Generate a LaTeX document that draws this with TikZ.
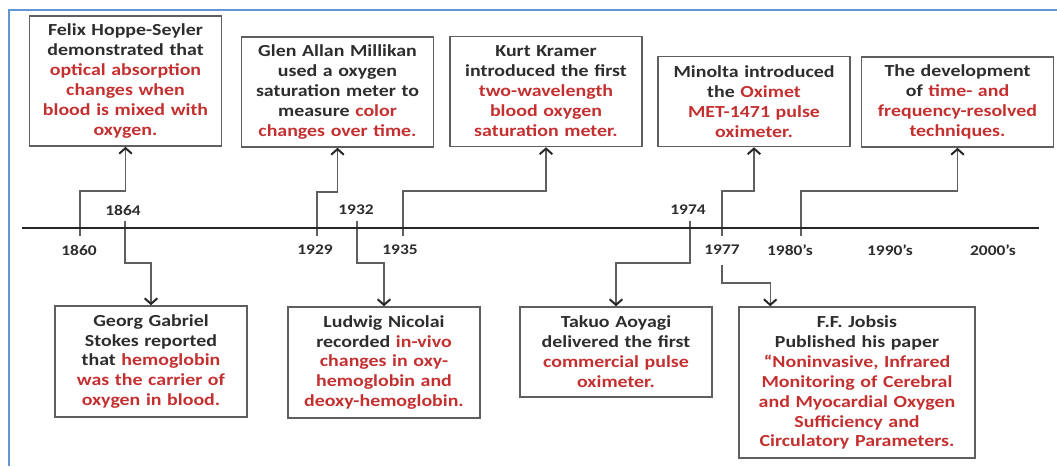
\documentclass[tikz,border=0pt]{standalone}
\usepackage{fontspec}
\setmainfont{Carlito}[FakeStretch=1.18]
\usetikzlibrary{arrows.meta}

\definecolor{txt}{RGB}{45,45,45}
\definecolor{keyred}{RGB}{196,48,48}
\definecolor{rule}{RGB}{95,95,95}
\definecolor{bluefrm}{RGB}{100,150,215}
\newcommand{\keyw}[1]{\textcolor{keyred}{#1}}

\tikzstyle{event} = [draw=rule, line width=1.1pt, rectangle, text=txt, text width=46mm, inner xsep=1mm, align=center, font={\bfseries\fontsize{12}{14.2}\selectfont}]
\tikzstyle{year}  = [text=txt, font={\bfseries\fontsize{10.5}{12}\selectfont}]
\tikzstyle{link}  = [draw=rule, line width=1pt, -{Straight Barb[length=4pt,width=9pt,line width=1.4pt,color=black!85]}]
\tikzstyle{yeartick} = [draw=rule, line width=1pt]

\begin{document}
\begin{tikzpicture}[x=0.25mm, y=-0.25mm]
  \useasboundingbox (0,0) rectangle (1057,466);
  \draw[bluefrm, line width=1.3pt] (9,466) -- (9,10) -- (1057,10);

  \coordinate (start) at (22,228);
  \coordinate (end) at (1039,228);
  \coordinate (t1860) at (80,228);
  \coordinate (t1864) at (125,228);
  \coordinate (t1929) at (317,228);
  \coordinate (t1932) at (357,228);
  \coordinate (t1935) at (403,228);
  \coordinate (t1974) at (690,228);
  \coordinate (t1977) at (722,228);
  \coordinate (t1980) at (801,228);

  \node at (79,250) (y1860) [year] {1860};
  \node at (123,210) (y1864) [year] {1864};
  \node at (315,250) (y1929) [year] {1929};
  \node at (356,210) (y1932) [year] {1932};
  \node at (400,250) (y1935) [year] {1935};
  \node at (688,210) (y1974) [year] {1974};
  \node at (722,250) (y1977) [year] {1977};
  \node at (790,250) (y1980) [year] {1980’s};
  \node at (890,250) (y1990) [year] {1990’s};
  \node at (993,250) (y2000) [year] {2000’s};

  \node at (125.5,81) (felix) [event, minimum height=32.5mm] {Felix Hoppe-Seyler\\ demonstrated that\\ \keyw{optical absorption}\\ \keyw{changes when}\\ \keyw{blood is mixed with}\\ \keyw{oxygen.}};
  \node at (337.5,92) (glen) [event, minimum height=27.5mm] {Glen Allan Millikan\\ used a oxygen\\ saturation meter to\\ measure \keyw{color}\\ \keyw{changes over time.}};
  \node at (546,91.5) (kurt) [event, minimum height=27.5mm] {Kurt Kramer\\ introduced the first\\ \keyw{two-wavelength}\\ \keyw{blood oxygen}\\ \keyw{saturation meter.}};
  \node at (754,101.5) (minolta) [event, minimum height=22.5mm] {Minolta introduced\\ the \keyw{Oximet}\\ \keyw{MET-1471 pulse}\\ \keyw{oximeter.}};
  \node at (957.5,102) (dev) [event, minimum height=22.5mm] {The development\\ of \keyw{time- and}\\ \keyw{frequency-resolved}\\ \keyw{techniques.}};

  \node at (151,361.5) (georg) [event, minimum height=27.75mm] {Georg Gabriel\\ Stokes reported\\ that \keyw{hemoglobin}\\ \keyw{was the carrier of}\\ \keyw{oxygen in blood.}};
  \node at (384,362.5) (ludwig) [event, minimum height=27.75mm] {Ludwig Nicolai\\ recorded \keyw{in-vivo}\\ \keyw{changes in oxy-}\\ \keyw{hemoglobin and}\\ \keyw{deoxy-hemoglobin.}};
  \node at (616,352) (takuo) [event, minimum height=22.5mm] {Takuo Aoyagi\\ delivered the first\\ \keyw{commercial pulse}\\ \keyw{oximeter.}};
  \node at (857,382.5) (jobsis) [event, text width=57mm, minimum height=37.75mm] {F.F. Jobsis\\ Published his paper\\ \keyw{“Noninvasive, Infrared}\\ \keyw{Monitoring of Cerebral}\\ \keyw{and Myocardial Oxygen}\\ \keyw{Sufficiency and}\\ \keyw{Circulatory Parameters.}};
  \coordinate (jin) at ([xshift=8mm]jobsis.north west);

  \draw[yeartick] (t1860) -- ++(0,8);
  \draw[yeartick] (t1864) -- ++(0,-7);
  \draw[yeartick] (t1929) -- ++(0,8);
  \draw[yeartick] (t1932) -- ++(0,-7);
  \draw[yeartick] (t1935) -- ++(0,8);
  \draw[yeartick] (t1974) -- ++(0,-7);
  \draw[yeartick] (t1977) -- ++(0,8);
  \draw[yeartick] (t1980) -- ++(0,8);

  \draw[link] (t1860) -- ++(0,-37) -| (felix.south);
  \draw[link] (t1929) -- ++(0,-36) -| (glen.south);
  \draw[link] (t1935) -- ++(0,-37) -| (kurt.south);
  \draw[link] (t1977) -- ++(0,-37) -| (minolta.south);
  \draw[link] (t1980) -- ++(0,-37) -| (dev.south);
  \draw[link] (t1864) -- ++(0,35) -| (georg.north);
  \draw[link] (t1932) -- ++(0,35) -| (ludwig.north);
  \draw[link] (t1974) -- ++(0,35) -| (takuo.north);
  \draw[link] ([yshift=-1.25mm]y1977.south) -- ++(0,18) -| (jin);

  \draw[line width=2pt, draw=black!85] (start) -- (end);
\end{tikzpicture}
\end{document}
